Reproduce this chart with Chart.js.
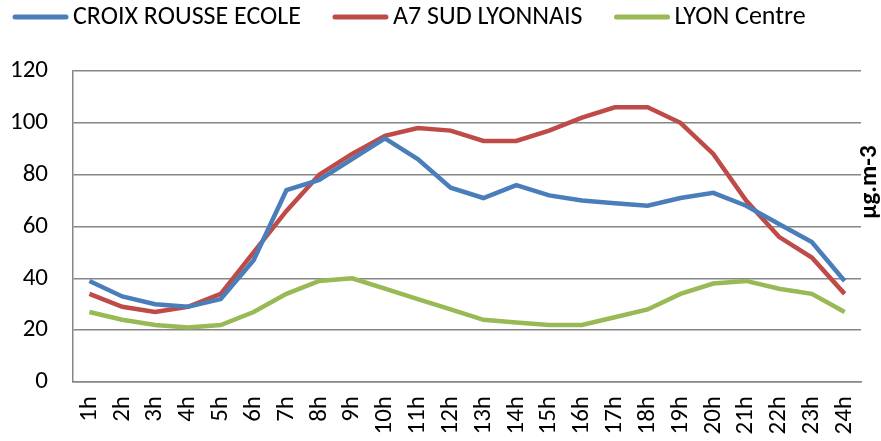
<!DOCTYPE html>
<html>
<head>
<meta charset="utf-8">
<title>Pollution horaire</title>
<script src="https://cdn.jsdelivr.net/npm/chart.js"></script>
<style>
  html, body { margin: 0; padding: 0; background: #fff; }
  #wrap { width: 881px; height: 441px; }
</style>
</head>
<body>
<div id="wrap"><canvas id="myChart"></canvas></div>
<script>
// hours of the day
var hours = ["1h","2h","3h","4h","5h","6h","7h","8h","9h","10h","11h","12h","13h","14h","15h","16h","17h","18h","19h","20h","21h","22h","23h","24h"];
var croixRousse = [39,33,30,29,32,47,74,78,86,94,86,75,71,76,72,70,69,68,71,73,68,61,54,39];
var a7Sud       = [34,29,27,29,34,50,66,80,88,95,98,97,93,93,97,102,106,106,100,88,70,56,48,34];
var lyonCentre  = [27,24,22,21,22,27,34,39,40,36,32,28,24,23,22,22,25,28,34,38,39,36,34,27];
var unitLabel = "µg.m-3";

var fontFam = "'Carlito', 'Liberation Sans', sans-serif";

// legend drawn by hand: line sample then text, left aligned
var legendPlugin = {
  id: 'legendPlugin',
  afterDraw: function (chart) {
    var ctx = chart.ctx;
    var x = 13, y = 17;
    ctx.save();
    ctx.font = "26px " + fontFam;
    ctx.textBaseline = 'middle';
    ctx.fillStyle = '#000';
    chart.data.datasets.forEach(function (ds) {
      ctx.beginPath();
      ctx.lineCap = 'round';
      ctx.lineWidth = 5;
      ctx.strokeStyle = ds.borderColor;
      ctx.moveTo(x + 2, y);
      ctx.lineTo(x + 53, y);
      ctx.stroke();
      x += 60;
      ctx.fillText(ds.label, x, y);
      x += ctx.measureText(ds.label).width + 32;
    });
    ctx.restore();
  }
};

// unit text on the right, reading bottom to top
var unitPlugin = {
  id: 'unitPlugin',
  afterDraw: function (chart) {
    var ctx = chart.ctx;
    ctx.save();
    ctx.translate(870, 182);
    ctx.rotate(-Math.PI / 2);
    ctx.font = "bold 25px " + fontFam;
    ctx.fillStyle = '#000';
    ctx.textAlign = 'center';
    ctx.textBaseline = 'middle';
    ctx.fillText(unitLabel, 0, 0);
    ctx.restore();
  }
};

function line(label, data, color) {
  return {
    label: label,
    data: data,
    borderColor: color,
    backgroundColor: color,
    borderWidth: 4.5,
    pointRadius: 0,
    tension: 0,
    fill: false
  };
}

new Chart(document.getElementById('myChart'), {
  type: 'line',
  data: {
    labels: hours,
    datasets: [
      line("CROIX ROUSSE ECOLE", croixRousse, '#4a7ebb'),
      line("A7 SUD LYONNAIS", a7Sud, '#be4b48'),
      line("LYON Centre", lyonCentre, '#98b954')
    ]
  },
  options: {
    responsive: true,
    maintainAspectRatio: false,
    animation: false,
    layout: { padding: { left: 0, right: 17, top: 71, bottom: 0 } },
    plugins: {
      legend: { display: false },
      tooltip: { enabled: false }
    },
    scales: {
      x: {
        offset: true,
        grid: { display: false },
        border: { color: '#868686', width: 1.5 },
        ticks: {
          color: '#000',
          maxRotation: 90,
          minRotation: 90,
          autoSkip: false,
          padding: 6,
          font: { family: fontFam, size: 25 }
        },
        afterFit: function (s) { s.height = 59; }
      },
      y: {
        min: 0,
        max: 120,
        ticks: {
          stepSize: 20,
          color: '#000',
          padding: 25,
          font: { family: fontFam, size: 25 }
        },
        grid: { color: '#868686', lineWidth: 1.5, drawTicks: false },
        border: { color: '#868686', width: 1.5 },
        afterFit: function (s) { s.width = 73; }
      }
    }
  },
  plugins: [legendPlugin, unitPlugin]
});
</script>
</body>
</html>
